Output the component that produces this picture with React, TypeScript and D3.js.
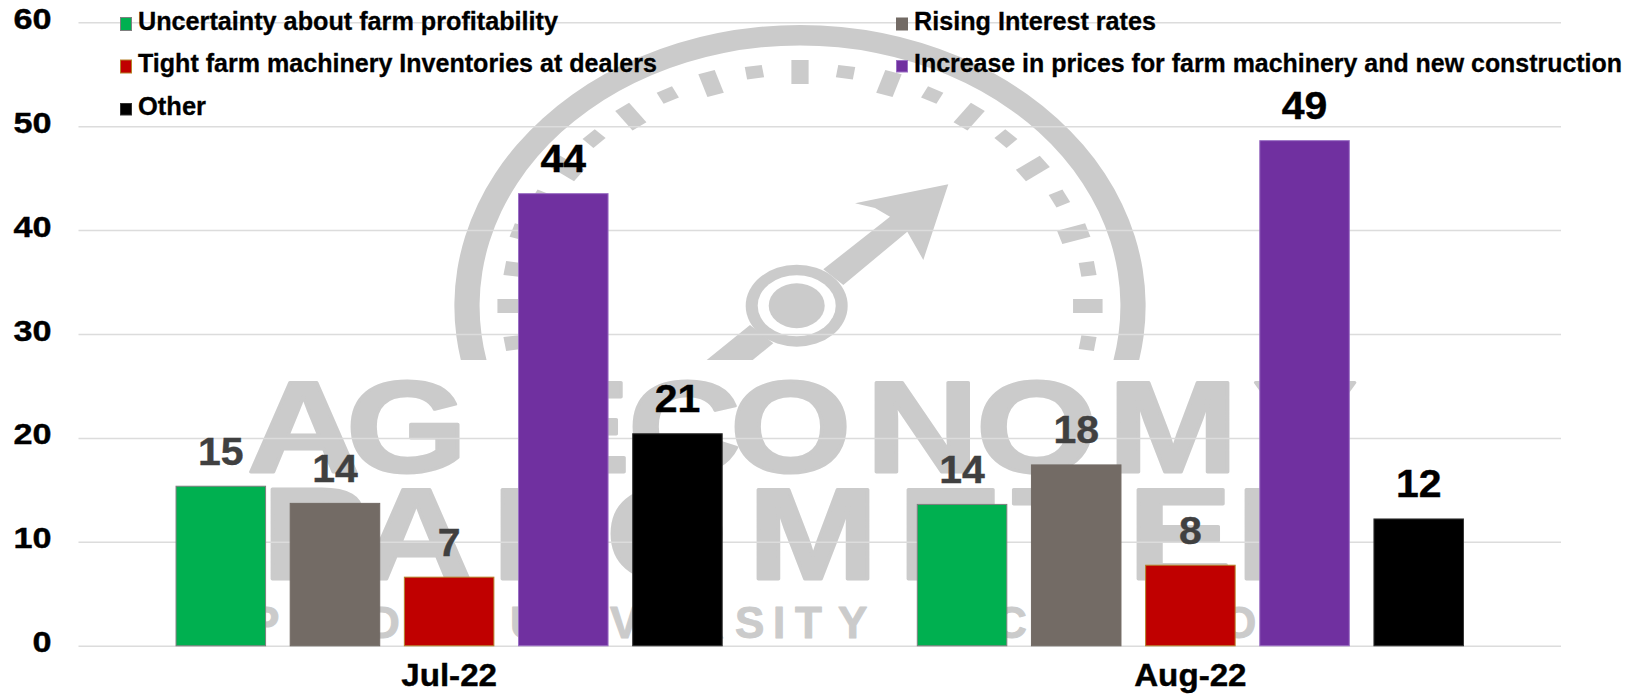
import React from "react";
import * as d3 from "d3";

const months = ["Jul-22", "Aug-22"];
const seriesNames = [
  "Uncertainty about farm profitability",
  "Rising Interest rates",
  "Tight farm machinery Inventories at dealers",
  "Increase in prices for farm machinery and new construction",
  "Other",
];
const uncertainty = [15.45, 13.7];
const rising = [13.8, 17.5];
const tight = [6.7, 7.85];
const prices = [43.6, 48.7];
const other = [20.5, 12.3];
const seriesValues = [uncertainty, rising, tight, prices, other];
const seriesFill = ["#00B050", "#736B65", "#C00000", "#7030A0", "#000000"];
const seriesStroke = ["#7f7f7f", "#736B65", "#b5822a", "#9a6fc4", "#333333"];
const labelFill = ["#404040", "#404040", "#404040", "#000000", "#000000"];
const yTicks = [0, 10, 20, 30, 40, 50, 60];

const W = 1639;
const H = 694;
const FONT = "'Liberation Sans', Arial, sans-serif";
const WM = "#cbcbcb";

const x0 = d3.scaleBand<string>().domain(months).range([78.5, 1561]);
const x1 = d3
  .scaleBand<string>()
  .domain(seriesNames)
  .range([0, x0.bandwidth()])
  .paddingInner(0.207)
  .paddingOuter(0.85);
const y = d3.scaleLinear().domain([0, 60]).range([646.3, 22.7]);

const legendLayout = [
  { x: 120, base: 30, w: 420, h: 14, top: 17 },
  { x: 896, base: 30, w: 242, h: 13, top: 17.5 },
  { x: 120, base: 72, w: 519, h: 14, top: 59.5 },
  { x: 896, base: 72, w: 708, h: 12.5, top: 60 },
  { x: 120, base: 115, w: 68, h: 12.5, top: 103 },
];

const wmRow1 = "AG ECONOMY";
const wmRow1X = [247, 346, 470, 526, 628, 730, 866, 976, 1108, 1253];
const wmRow2 = "BAROMETER";
const wmRow2X = [262, 360, 492, 606, 748, 898, 1012, 1128, 1236];
const wmRow3 = "PURDUE UNIVERSITY";
const wmRow3X = [250, 290, 330, 368, 410, 455, 490, 510, 550, 590, 610, 650, 692, 735, 773, 795, 838];
const wmRow4 = "CME GROUP";
const wmRow4X = [995, 1033, 1063, 1080, 1088, 1150, 1222, 1265, 1305];

function Watermark() {
  const cx = 800;
  const cy = 306;
  const sx = 1.23;
  const wmSx = 1.2;
  const rad = (d: number) => (d * Math.PI) / 180;
  const ring = d3.arc()({
    innerRadius: 260.5,
    outerRadius: 281,
    startAngle: rad(-110),
    endAngle: rad(110),
  } as any) as string;
  const tickAngles = d3.range(-99, 100, 9);
  const needle = d3.line()([
    [948.3, 184.3],
    [855, 203.3],
    [875, 208],
    [890, 216.7],
    [823.3, 269.3],
    [843.3, 285],
    [907.3, 231.7],
    [923.3, 260],
  ]) as string;
  const tail = d3.line()([
    [750, 325],
    [706.7, 360],
    [752.7, 360],
    [773.3, 343.3],
  ]) as string;
  return (
    <g fill={WM}>
      <defs>
        <clipPath id="gaugeClip">
          <rect x={400} y={0} width={800} height={360} />
        </clipPath>
      </defs>
      <g clipPath="url(#gaugeClip)">
        <path d={ring} transform={`translate(${cx},${cy}) scale(${sx},1)`} />
      </g>
      <g transform={`translate(${cx},${cy}) scale(${sx},1)`}>
        {tickAngles.map((a) => {
          const long = Math.abs(a) % 18 === 0;
          return (
            <rect
              key={a}
              x={-7}
              y={long ? -246 : -243}
              width={14}
              height={long ? 24 : 12.5}
              transform={`rotate(${a})`}
            />
          );
        })}
      </g>
      <path d={needle} />
      <path d={tail} />
      <ellipse cx={796.7} cy={305.7} rx={51} ry={41} />
      <ellipse cx={796.7} cy={305.7} rx={39} ry={30.5} fill="#fff" />
      <ellipse cx={796.7} cy={305.7} rx={28} ry={22.5} />
      <g fontFamily={FONT} fontWeight={700} stroke={WM} strokeLinejoin="round">
        <text
          transform={`translate(0,472) scale(${wmSx},1)`}
          x={wmRow1X.map((v) => v / wmSx).join(" ")}
          fontSize={130}
          strokeWidth={3}
        >
          {wmRow1}
        </text>
        <text
          transform={`translate(0,579) scale(${wmSx},1)`}
          x={wmRow2X.map((v) => v / wmSx).join(" ")}
          fontSize={130}
          strokeWidth={3}
        >
          {wmRow2}
        </text>
        <text x={wmRow3X.join(" ")} y={638} fontSize={44} strokeWidth={1}>
          {wmRow3}
        </text>
        <text x={wmRow4X.join(" ")} y={638} fontSize={44} strokeWidth={1}>
          {wmRow4}
        </text>
      </g>
    </g>
  );
}

export default function App() {
  return (
    <svg
      width={W}
      height={H}
      viewBox={`0 0 ${W} ${H}`}
      style={{ position: "absolute", left: 0, top: 0, display: "block", background: "#fff" }}
    >
      <Watermark />
      {yTicks.map((t) => (
        <line key={t} x1={78.5} x2={1561} y1={y(t)} y2={y(t)} stroke="#dcdcdc" strokeWidth={1.5} />
      ))}
      <g fontFamily={FONT} fontWeight={700} fill="#000" stroke="#000" strokeWidth={0.4}>
        {yTicks.map((t) => (
          <text
            key={t}
            transform={`translate(51.5,${y(t) + 6}) scale(1.16,1)`}
            fontSize={29.5}
            textAnchor="end"
          >
            {t}
          </text>
        ))}
        {months.map((m) => (
          <text
            key={m}
            transform={`translate(${(x0(m) as number) + x0.bandwidth() / 2},686) scale(1.07,1)`}
            fontSize={31}
            textAnchor="middle"
          >
            {m}
          </text>
        ))}
      </g>
      {months.map((m, mi) =>
        seriesNames.map((s, si) => {
          const v = seriesValues[si][mi];
          const bx = (x0(m) as number) + (x1(s) as number);
          const top = y(v);
          return (
            <g key={s + m}>
              <rect
                x={bx + 0.5}
                y={top + 0.5}
                width={x1.bandwidth() - 1}
                height={y(0) - top - 1}
                fill={seriesFill[si]}
                stroke={seriesStroke[si]}
                strokeWidth={1}
              />
              <text
                transform={`translate(${bx + x1.bandwidth() / 2},${top - 21}) scale(1.05,1)`}
                fontFamily={FONT}
                fontWeight={700}
                fontSize={39}
                textAnchor="middle"
                fill={labelFill[si]}
                stroke={labelFill[si]}
                strokeWidth={0.4}
              >
                {Math.round(v)}
              </text>
            </g>
          );
        })
      )}
      <g fontFamily={FONT} fontWeight={700} fill="#000">
        {seriesNames.map((s, si) => {
          const l = legendLayout[si];
          return (
            <g key={s}>
              <rect
                x={l.x + 0.5}
                y={l.top + 0.5}
                width={11}
                height={l.h - 1}
                fill={seriesFill[si]}
                stroke={seriesStroke[si]}
                strokeWidth={1}
              />
              <text
                x={l.x + 18}
                y={l.base}
                fontSize={25.5}
                textLength={l.w}
                lengthAdjust="spacingAndGlyphs"
                stroke="#000"
                strokeWidth={0.3}
              >
                {s}
              </text>
            </g>
          );
        })}
      </g>
    </svg>
  );
}
